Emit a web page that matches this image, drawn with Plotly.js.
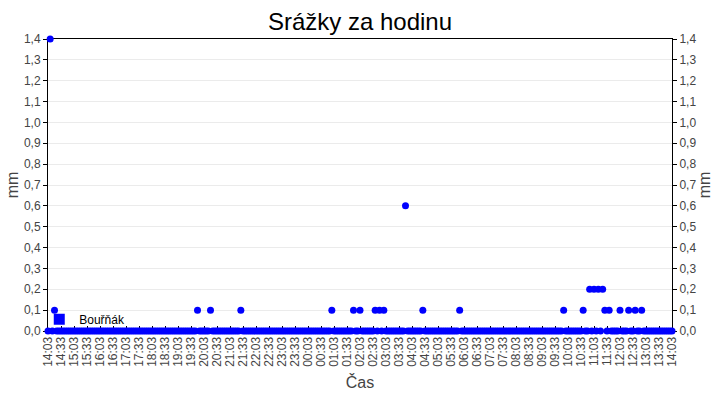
<!DOCTYPE html>
<html>
<head>
<meta charset="utf-8">
<script src="https://cdn.plot.ly/plotly-3.0.1.min.js"></script>
<style>
  html, body { margin: 0; padding: 0; background: #fff; }
  #graf { width: 720px; height: 400px; }
</style>
</head>
<body>
<div id="graf"></div>
<script>
// popisky casove osy (po 30 min)
const casy = ["14:03","14:33","15:03","15:33","16:03","16:33","17:03","17:33","18:03","18:33",
  "19:03","19:33","20:03","20:33","21:03","21:33","22:03","22:33","23:03","23:33",
  "00:03","00:33","01:03","01:33","02:03","02:33","03:03","03:33","04:03","04:33",
  "05:03","05:33","06:03","06:33","07:03","07:33","08:03","08:33","09:03","09:33",
  "10:03","10:33","11:03","11:33","12:03","12:33","13:03","13:33","14:03"];

// srazky [mm] kazdych 5 minut od 14:03, jeden radek = jedna hodina
const srazky = [
  0,1.4,0,0.1,0,0,0,0,0,0,0,0,
  0,0,0,0,0,0,0,0,0,0,0,0,
  0,0,0,0,0,0,0,0,0,0,0,0,
  0,0,0,0,0,0,0,0,0,0,0,0,
  0,0,0,0,0,0,0,0,0,0,0,0,
  0,0,0,0,0,0,0,0,0,0.1,0,0,
  0,0,0,0.1,0,0,0,0,0,0,0,0,
  0,0,0,0,0,0.1,0,0,0,0,0,0,
  0,0,0,0,0,0,0,0,0,0,0,0,
  0,0,0,0,0,0,0,0,0,0,0,0,
  0,0,0,0,0,0,0,0,0,0,0,0.1,
  0,0,0,0,0,0,0,0,0,0.1,0,0,
  0.1,0,0,0,0,0,0,0.1,0,0.1,0,0.1,
  0,0,0,0,0,0,0,0,0,0.6,0,0,
  0,0,0,0,0,0.1,0,0,0,0,0,0,
  0,0,0,0,0,0,0,0,0,0,0.1,0,
  0,0,0,0,0,0,0,0,0,0,0,0,
  0,0,0,0,0,0,0,0,0,0,0,0,
  0,0,0,0,0,0,0,0,0,0,0,0,
  0,0,0,0,0,0,0,0,0,0,0.1,0,
  0,0,0,0,0,0,0,0.1,0,0,0.2,0,
  0.2,0,0.2,0,0.2,0.1,0,0.1,0,0,0,0,
  0.1,0,0,0,0.1,0,0,0.1,0,0,0.1,0,
  0,0,0,0,0,0,0,0,0,0,0,0,
  0
];
const krok = 5;       // minut mezi merenimi
const nazev = "Bouřňák";

let minuty = srazky.map((v, i) => i * krok);
let tickPozice = casy.map((c, i) => i * 30);

const pismo = "Liberation Sans, Arial, sans-serif";
const seda = "#444";

let data = [
  {
    x: minuty, y: srazky, type: "scatter", mode: "markers",
    marker: { color: "#0000ff", size: 7 },
    showlegend: false, cliponaxis: false, hoverinfo: "y"
  },
  {
    // jen polozka legendy (ctverecek), zaroven drzi pravou osu
    x: [null], y: [null], type: "scatter", mode: "markers", name: nazev,
    yaxis: "y2",
    marker: { color: "#0000ff", size: 11, symbol: "square" }
  }
];

let osaY = {
  range: [0, 1.4], dtick: 0.1, tickformat: ".1f",
  showgrid: true, gridcolor: "#ebebeb", gridwidth: 1,
  zeroline: false, showline: true, linecolor: "#000", linewidth: 1,
  ticks: "outside", ticklen: 4, tickcolor: "#000",
  tickfont: { family: pismo, size: 12, color: seda },
  title: { text: "mm", font: { family: pismo, size: 16, color: seda }, standoff: 1 },
  layer: "below traces", fixedrange: true
};

let layout = {
  width: 720, height: 400,
  margin: { l: 48, r: 48, t: 39, b: 69 },
  paper_bgcolor: "#fff", plot_bgcolor: "#fff",
  separators: ",.",
  font: { family: pismo, color: seda },
  title: {
    text: "Srážky za hodinu",
    font: { family: pismo, size: 24, color: "#000" },
    x: 0.5, xanchor: "center", y: 0.945, yanchor: "middle"
  },
  xaxis: {
    range: [0, 1440],
    tickmode: "array", tickvals: tickPozice, ticktext: casy, tickangle: -90,
    tickfont: { family: pismo, size: 12, color: seda },
    ticks: "inside", ticklen: 5, tickcolor: "#000",
    showgrid: false, zeroline: false,
    showline: true, linecolor: "#000", linewidth: 1, mirror: true,
    title: { text: "Čas", font: { family: pismo, size: 16, color: seda }, standoff: 10 },
    layer: "below traces", fixedrange: true
  },
  yaxis: Object.assign({}, osaY, { side: "left", mirror: true }),
  yaxis2: Object.assign({}, osaY, { side: "right", overlaying: "y", showgrid: false }),
  legend: {
    x: -0.014, xanchor: "left", y: 0.04, yanchor: "middle",
    bgcolor: "rgba(0,0,0,0)", borderwidth: 0,
    font: { family: pismo, size: 12, color: "#000" }
  },
  showlegend: true
};

Plotly.newPlot("graf", data, layout, { displayModeBar: false, staticPlot: true });
</script>
</body>
</html>
